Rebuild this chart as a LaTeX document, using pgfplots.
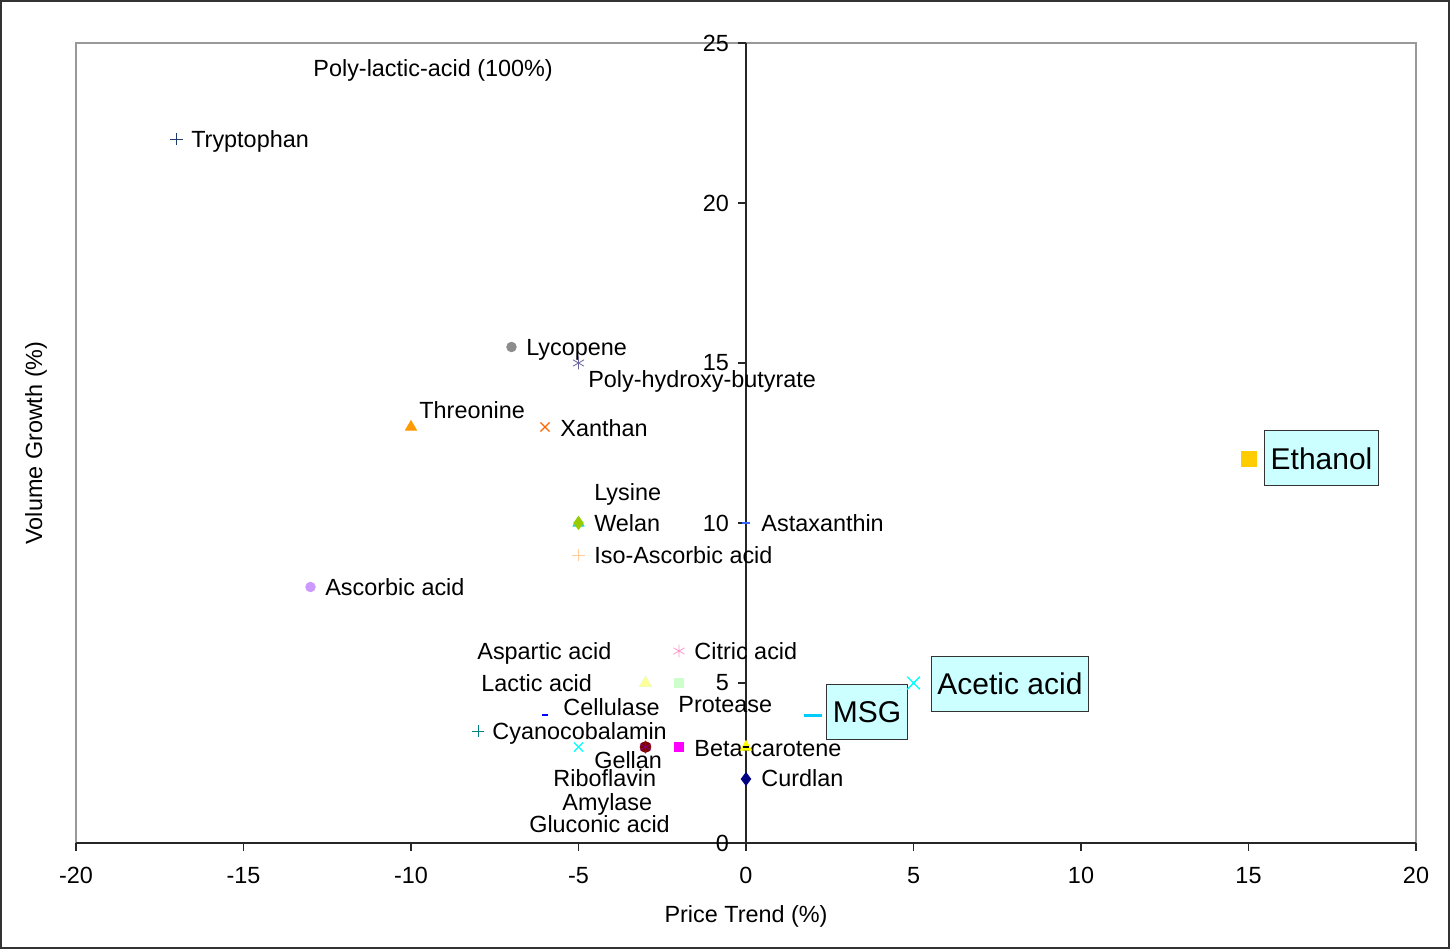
\documentclass[border=0pt]{standalone}
\usepackage{pgfplots}
\pgfplotsset{compat=1.18}
\usepackage{fontspec}
\setmainfont{Liberation Sans}
\newcommand\lf{\fontsize{11.7pt}{13pt}\selectfont}
\newcommand\bigf{\fontsize{15pt}{17pt}\selectfont}
\definecolor{cTryp}{HTML}{1F3A6E}
\definecolor{cLyco}{HTML}{8C8C8C}
\definecolor{cPHB}{HTML}{66669A}
\definecolor{cThre}{HTML}{FF9900}
\definecolor{cXan}{HTML}{FF6600}
\definecolor{cLys}{HTML}{99CC00}
\definecolor{cLysB}{HTML}{33CCCC}
\definecolor{cAsta}{HTML}{3366FF}
\definecolor{cIso}{HTML}{FFCC99}
\definecolor{cAsc}{HTML}{CC99FF}
\definecolor{cCit}{HTML}{FF99CC}
\definecolor{cLac}{HTML}{FFFF99}
\definecolor{cLacB}{HTML}{CCFFFF}
\definecolor{cProt}{HTML}{CCFFCC}
\definecolor{cCell}{HTML}{0000FF}
\definecolor{cCyan}{HTML}{008080}
\definecolor{cGel}{HTML}{00FFFF}
\definecolor{cRib}{HTML}{800000}
\definecolor{cAmy}{HTML}{800080}
\definecolor{cBeta}{HTML}{FF00FF}
\definecolor{cYel}{HTML}{FFFF00}
\definecolor{cCurd}{HTML}{000080}
\definecolor{cMSG}{HTML}{00CCFF}
\definecolor{cEth}{HTML}{FFCC00}
\definecolor{boxfill}{HTML}{CCFFFF}
\begin{document}
\begin{tikzpicture}
\draw[line width=1pt, color=black!80] (-37.5pt,-52.5pt) rectangle (686.5pt,421pt);
\draw[line width=0.85pt, color=black!40] (0,0) rectangle (670pt,400pt);
\begin{axis}[
  at={(0,0)}, anchor=south west,
  scale only axis, width=670pt, height=400pt,
  xmin=-20, xmax=20, ymin=0, ymax=25,
  axis x line=bottom, axis y line=middle,
  axis line style={-, line width=0.7pt, black!85},
  xtick={-20,-15,...,20}, ytick={0,5,...,25},
  tick align=outside, major tick length=4pt,
  tick style={black!85, line width=0.6pt},
  hide obscured x ticks=false, hide obscured y ticks=false,
  xticklabel style={font=\lf, yshift=-4.5pt},
  yticklabel style={font=\lf, xshift=-1pt},
  /pgf/number format/assume math mode=true,
  clip=false,
  every node/.append style={font=\lf},
]
\addplot[only marks, mark=+, mark size=3.2pt, cTryp] coordinates {(-17,22)};
\addplot[only marks, mark=*, mark size=2.4pt, cLyco] coordinates {(-7,15.5)};
\addplot[only marks, mark=asterisk, mark size=3.2pt, cPHB] coordinates {(-5,15)};
\addplot[only marks, mark=triangle*, mark size=3.2pt, cThre] coordinates {(-10,13)};
\addplot[only marks, mark=x, mark size=3.2pt, cXan, line width=0.6pt] coordinates {(-6,13)};
\addplot[only marks, mark=triangle*, mark size=3.2pt, cLysB] coordinates {(-5,10)};
\addplot[only marks, mark=diamond*, mark size=3.2pt, cLys] coordinates {(-5,10)};
\addplot[only marks, mark=-, mark size=2pt, cAsta, line width=1.2pt] coordinates {(0,10)};
\addplot[only marks, mark=+, mark size=3.2pt, cIso] coordinates {(-5,9)};
\addplot[only marks, mark=*, mark size=2.4pt, cAsc] coordinates {(-13,8)};
\addplot[only marks, mark=asterisk, mark size=3.2pt, cCit] coordinates {(-2,6)};
\addplot[only marks, mark=triangle*, mark size=3.5pt, cLacB] coordinates {(-3,5)};
\addplot[only marks, mark=triangle*, mark size=3.2pt, cLac] coordinates {(-3,5)};
\addplot[only marks, mark=square*, mark size=2.4pt, cProt] coordinates {(-2,5)};
\addplot[only marks, mark=-, mark size=1.7pt, cCell, line width=1.2pt] coordinates {(-6,4)};
\addplot[only marks, mark=+, mark size=3.2pt, cCyan] coordinates {(-8,3.5)};
\addplot[only marks, mark=x, mark size=3.2pt, cGel, line width=0.6pt] coordinates {(-5,3)};
\addplot[only marks, mark=*, mark size=2.7pt, cRib] coordinates {(-3,3)};
\addplot[only marks, mark=asterisk, mark size=3.2pt, cAmy] coordinates {(-3,3)};
\addplot[only marks, mark=square*, mark size=2.4pt, cBeta] coordinates {(-2,3)};
\addplot[only marks, mark=triangle*, mark size=3.2pt, cYel] coordinates {(0,3)};
\addplot[only marks, mark=-, mark size=1.5pt, black, line width=1pt] coordinates {(0,3)};
\addplot[only marks, mark=diamond*, mark size=3.2pt, cCurd] coordinates {(0,2)};
\addplot[only marks, mark=-, mark size=4.5pt, cMSG, line width=1.5pt] coordinates {(2,4)};
\addplot[only marks, mark=x, mark size=4.5pt, cGel, line width=0.7pt] coordinates {(5,5)};
\addplot[only marks, mark=square*, mark size=3.8pt, cEth] coordinates {(15,12)};

\begin{scope}[every node/.style={font=\lf, inner sep=0pt, anchor=base west, yshift=-4.1pt}]
\node[anchor=base] at (axis cs:-9.34,24.22) {Poly-lactic-acid (100\%)};
\node at (axis cs:-16.57,22) {Tryptophan};
\node at (axis cs:-6.57,15.5) {Lycopene};
\node at (axis cs:-4.72,14.5) {Poly-hydroxy-butyrate};
\node at (axis cs:-9.76,13.53) {Threonine};
\node at (axis cs:-5.55,12.97) {Xanthan};
\node at (axis cs:-4.54,10.97) {Lysine};
\node at (axis cs:-4.54,10) {Welan};
\node at (axis cs:0.45,10) {Astaxanthin};
\node at (axis cs:-4.54,9) {Iso-Ascorbic acid};
\node at (axis cs:-12.57,8) {Ascorbic acid};
\node at (axis cs:-8.03,6) {Aspartic acid};
\node at (axis cs:-1.55,6) {Citric acid};
\node at (axis cs:-7.91,5) {Lactic acid};
\node at (axis cs:-2.03,4.34) {Protease};
\node at (axis cs:-5.46,4.25) {Cellulase};
\node at (axis cs:-7.58,3.5) {Cyanocobalamin};
\node at (axis cs:-4.54,2.59) {Gellan};
\node at (axis cs:-5.76,2.03) {Riboflavin};
\node at (axis cs:-5.49,1.28) {Amylase};
\node at (axis cs:-6.48,0.59) {Gluconic acid};
\node at (axis cs:-1.55,2.97) {Beta-carotene};
\node at (axis cs:0.45,2.03) {Curdlan};
\end{scope}
\begin{scope}[every node/.style={font=\bigf, draw=black!80, line width=0.5pt, fill=boxfill, inner xsep=3pt, minimum height=27.5pt, anchor=center}]
\node at (axis cs:3.61,4.09) {MSG};
\node at (axis cs:7.88,4.98) {Acetic acid};
\node at (axis cs:17.18,12.02) {Ethanol};
\end{scope}
\end{axis}
\node[font=\lf] at (335pt,-36.5pt) {Price Trend (\%)};
\node[font=\lf, rotate=90] at (-20pt,200pt) {Volume Growth (\%)};
\end{tikzpicture}
\end{document}
